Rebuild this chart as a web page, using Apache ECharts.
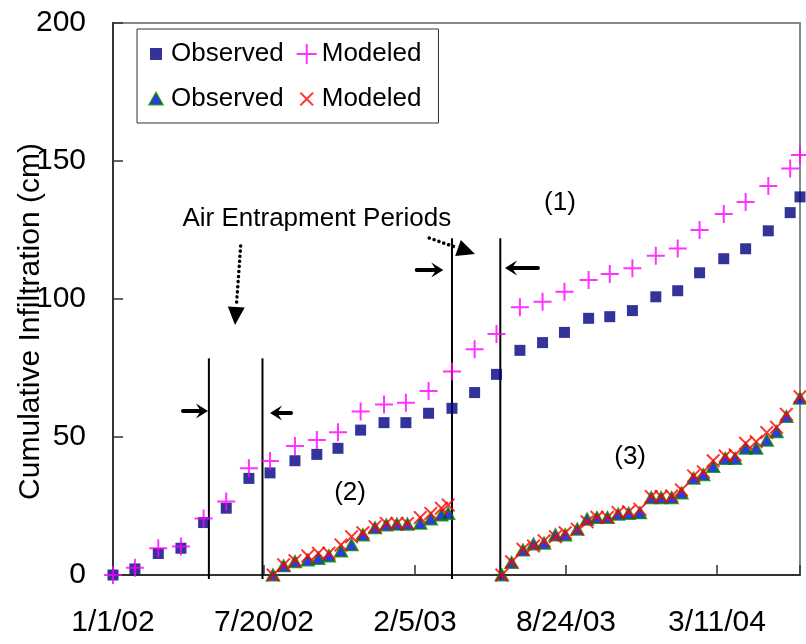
<!DOCTYPE html>
<html><head><meta charset="utf-8">
<script src="https://cdn.jsdelivr.net/npm/echarts@6/dist/echarts.min.js"></script>
<style>html,body{margin:0;padding:0;background:#fff}#c{width:806px;height:644px}</style>
</head><body><div id="c"></div>
<script>
// x values are days since 1/1/02
const tickLabels = ['1/1/02', '7/20/02', '2/5/03', '8/24/03', '3/11/04'];

const days1 = [0, 29, 60, 90, 120, 150, 180, 208, 241, 270, 298, 328, 359, 388, 418, 449, 479, 508, 539, 569, 598, 630, 658, 688, 719, 748, 777, 809, 838, 868, 897, 910];
const observed1 = [0, 2.2, 7.8, 9.7, 19, 24.2, 35, 37, 41.4, 43.7, 45.9, 52.5, 55.2, 55.2, 58.6, 60.4, 66.1, 72.7, 81.4, 84.2, 87.9, 93, 93.6, 95.8, 100.8, 103, 109.5, 114.6, 118.2, 124.7, 131.3, 137];
const modeled1 = [0, 2.6, 9.7, 10.3, 20.5, 26.6, 38.7, 41.3, 46.7, 48.9, 51.7, 59.2, 61.8, 62.4, 66.7, 73.7, 81.8, 87.3, 97, 99, 102.6, 106.9, 109.1, 111.1, 115.7, 118.3, 125, 130.8, 135.1, 140.9, 147.3, 152.2];

const days2 = [212, 226, 241, 258, 272, 286, 302, 316, 331, 347, 362, 376, 390, 407, 421, 435, 444];
const observed2 = [0, 3.3, 4.8, 5.4, 6, 6.9, 8.7, 10.9, 14.5, 17.1, 18.1, 18.4, 18.4, 18.7, 20.3, 21.7, 22.3];
const modeled2 = [0, 3.7, 5.2, 6.9, 7.9, 7.9, 10.9, 13.9, 15.3, 17.5, 18.7, 18.7, 18.7, 20.8, 22.3, 24.2, 25.4];

const days3 = [515, 528, 543, 557, 571, 586, 599, 615, 628, 641, 655, 669, 683, 698, 713, 726, 740, 753, 769, 782, 795, 811, 824, 838, 852, 866, 879, 892, 910];
const observed3 = [0, 4.5, 9, 11.2, 11.5, 14.5, 14.5, 16.6, 20.2, 20.8, 20.8, 22, 22.3, 22.5, 28, 28, 28, 29.7, 35, 36.3, 39.3, 42.2, 42.2, 45.9, 45.9, 48.8, 51.9, 57.4, 64];
const modeled3 = [0, 4.8, 9.3, 10.5, 12.4, 13.9, 15.3, 16.6, 19.3, 20.9, 20.9, 22.6, 22.9, 23.8, 28.4, 28.4, 28.6, 30.8, 35.9, 37.4, 41.4, 43.1, 43.5, 47.7, 48.3, 51.6, 53.5, 58.2, 64.6];

// annotations in data coordinates
const airLines = [[127, 78.5], [198, 78.5], [449, 122], [513, 122]];          // [day, top]
const solidArrows = [[92.7, 125.8, 59.4], [235.8, 208, 58.7], [402.3, 437.5, 110.5], [562.9, 519.2, 111.2]]; // [tailDay, tipDay, value]
const dottedArrows = [[169.1, 119.2, 161.6, 90.6], [418.9, 122.1, 479.5, 116.3]]; // [x0,y0,x1,y1]
const noteTexts = ['Air Entrapment Periods', '(1)', '(2)', '(3)'];
const notePos = [[270, 129], [592, 134.8], [314, 29.8], [685, 42.9]];

const FONT = 'Liberation Sans, Arial, Helvetica, sans-serif';
const XP = 'M5.657,-7.071L7.071,-5.657L1.414,0L7.071,5.657L5.657,7.071L0,1.414L-5.657,7.071L-7.071,5.657L-1.414,0L-7.071,-5.657L-5.657,-7.071L0,-1.414Z';
const PLUS = 'path://M-1,-9L1,-9L1,-1L9,-1L9,1L1,1L1,9L-1,9L-1,1L-9,1L-9,-1L-1,-1Z';
const CROSS = 'path://' + XP;
const PAD = 'M-10,-10M10,10';

const zip = (xs, ys) => xs.map((x, i) => [x, ys[i]]);

const chart = echarts.init(document.getElementById('c'), null, {renderer: 'canvas'});
chart.setOption({
  animation: false,
  backgroundColor: '#fff',
  grid: {left: 113, right: 6, top: 23, bottom: 69, show: true, borderColor: '#888', borderWidth: 2, backgroundColor: '#fff', containLabel: false, outerBoundsMode: 'none'},
  legend: {
    left: 137, top: 29, width: 300,
    padding: [9, 17, 8, 8],
    itemGap: 13, itemWidth: 20, itemHeight: 20,
    borderColor: '#333', borderWidth: 1, backgroundColor: '#fff',
    selectedMode: false,
    formatter: n => n.trim(),
    textStyle: {fontSize: 26, fontFamily: FONT, color: '#000', lineHeight: 32},
    data: [
      {name: 'Observed', icon: 'path://' + PAD + 'M-6,-6L6,-6L6,6L-6,6Z'},
      {name: 'Modeled', icon: 'path://' + PAD + 'M-1,-10L1,-10L1,-1L10,-1L10,1L1,1L1,10L-1,10L-1,1L-10,1L-10,-1L-1,-1Z'},
      {name: 'Observed ', icon: 'path://' + PAD + 'M0,-6L6.5,5.5L-6.5,5.5Z'},
      {name: 'Modeled ', icon: 'path://' + PAD + XP}
    ]
  },
  xAxis: {
    type: 'value', min: 0, max: 910, interval: 200,
    axisLine: {lineStyle: {color: '#333', width: 2}},
    axisTick: {inside: true, length: 10, lineStyle: {color: '#333', width: 1.5}},
    splitLine: {show: false},
    axisLabel: {
      fontSize: 30, fontFamily: FONT, color: '#000', margin: 33,
      formatter: v => (v % 200 === 0 ? (tickLabels[v / 200] || '') : '')
    }
  },
  yAxis: {
    type: 'value', min: 0, max: 200, interval: 50,
    name: 'Cumulative Infiltration (cm)', nameLocation: 'middle', nameGap: 67, nameMoveOverlap: false,
    nameTextStyle: {fontSize: 30, fontFamily: FONT, color: '#000', padding: [0, 45, 0, 0]},
    axisLine: {show: true, lineStyle: {color: '#333', width: 2}},
    axisTick: {show: true, inside: true, length: 10, lineStyle: {color: '#333', width: 1.5}},
    splitLine: {show: false},
    axisLabel: {fontSize: 30, fontFamily: FONT, color: '#000', margin: 27}
  },
  series: [
    {
      type: 'custom', name: 'lines', silent: true, clip: false, z: 3,
      data: airLines,
      renderItem: (p, api) => {
        const top = api.coord([api.value(0), api.value(1)]);
        const bot = api.coord([api.value(0), 0]);
        return {type: 'line', shape: {x1: top[0], y1: top[1], x2: bot[0], y2: bot[1] + 4}, style: {stroke: '#000', lineWidth: 2}};
      }
    },
    {
      type: 'custom', name: 'arrows', silent: true, clip: false, z: 3,
      data: solidArrows,
      encode: {x: [0, 1], y: 2},
      renderItem: (p, api) => {
        const t = api.coord([api.value(0), api.value(2)]);
        const h = api.coord([api.value(1), api.value(2)]);
        const d = h[0] > t[0] ? 1 : -1;
        const L = 12, W = 7.5;
        return {type: 'group', children: [
          {type: 'line', shape: {x1: t[0], y1: t[1], x2: h[0] - d * 5, y2: h[1]}, style: {stroke: '#000', lineWidth: 4, lineCap: 'round'}},
          {type: 'polygon', shape: {points: [[h[0], h[1]], [h[0] - d * L, h[1] - W], [h[0] - d * L * 0.6, h[1]], [h[0] - d * L, h[1] + W]]}, style: {fill: '#000'}}
        ]};
      }
    },
    {
      type: 'custom', name: 'dotted', silent: true, clip: false, z: 3,
      data: dottedArrows,
      encode: {x: [0, 2], y: [1, 3]},
      renderItem: (p, api) => {
        const s = api.coord([api.value(0), api.value(1)]);
        const e = api.coord([api.value(2), api.value(3)]);
        const dx = e[0] - s[0], dy = e[1] - s[1];
        const len = Math.sqrt(dx * dx + dy * dy);
        const ux = dx / len, uy = dy / len;
        const L = 18, W = 8.5;
        const bx = e[0] - ux * L, by = e[1] - uy * L;
        return {type: 'group', children: [
          {type: 'line', shape: {x1: s[0], y1: s[1], x2: bx, y2: by}, style: {stroke: '#000', lineWidth: 3.5, lineCap: 'round', lineDash: [0.1, 5]}},
          {type: 'polygon', shape: {points: [[e[0], e[1]], [bx - uy * W, by + ux * W], [bx + uy * W, by - ux * W]]}, style: {fill: '#000'}}
        ]};
      }
    },
    {
      type: 'custom', name: 'notes', silent: true, clip: false, z: 3,
      data: notePos.map((q, i) => [q[0], q[1], i]),
      renderItem: (p, api) => {
        const c = api.coord([api.value(0), api.value(1)]);
        return {type: 'text', x: c[0], y: c[1], style: {text: noteTexts[api.value(2)], fontSize: 26, fontFamily: FONT, fill: '#000', align: 'center', verticalAlign: 'middle'}};
      }
    },
    {
      type: 'scatter', name: 'Observed', data: zip(days1, observed1), clip: false, z: 4,
      symbol: 'rect', symbolSize: 11, itemStyle: {color: '#000080'}
    },
    {
      type: 'scatter', name: 'Modeled', data: zip(days1, modeled1), clip: false, z: 5,
      symbol: PLUS, symbolSize: 18, itemStyle: {color: '#FF00FF'}
    },
    {
      type: 'scatter', name: 'Observed ', data: zip(days2, observed2).concat(zip(days3, observed3)), clip: false, z: 6,
      symbol: 'triangle', symbolSize: [12, 11], itemStyle: {color: '#0000FF', borderColor: '#008000', borderWidth: 2}
    },
    {
      type: 'scatter', name: 'Modeled ', data: zip(days2, modeled2).concat(zip(days3, modeled3)), clip: false, z: 7,
      symbol: CROSS, symbolSize: 14, itemStyle: {color: '#FF0000'}
    }
  ]
});
</script>
</body></html>
